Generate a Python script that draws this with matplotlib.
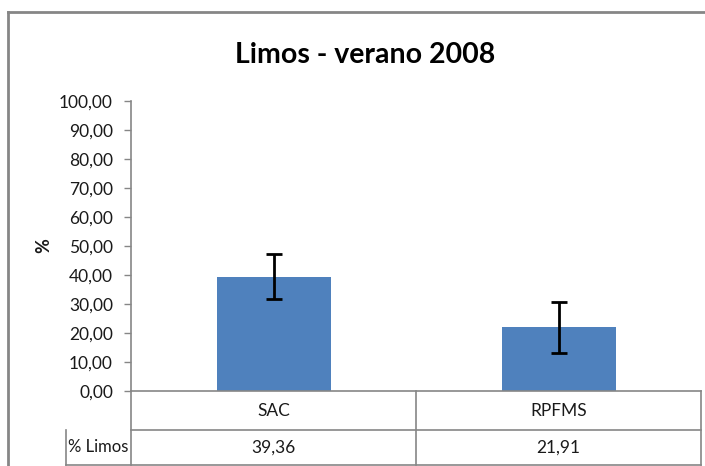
import matplotlib
matplotlib.use('Agg')
import matplotlib.pyplot as plt
from matplotlib.ticker import FuncFormatter, MultipleLocator
from matplotlib.lines import Line2D

# data
categories = ['SAC', 'RPFMS']
limos = [39.36, 21.91]
errors = [7.8, 8.7]
row_label = '% Limos'
title = 'Limos - verano 2008'

plt.rcParams['font.family'] = ['Lato', 'DejaVu Sans']

grey = '#868686'
txt = '#1a1a1a'

fig = plt.figure(figsize=(7.05, 4.66), dpi=100)
ax = fig.add_axes([131 / 705, 75 / 466, 570 / 705, 290 / 466])

x = list(range(len(categories)))
ax.bar(x, limos, width=0.4, color='#4F81BD', zorder=2)
ax.errorbar(x, limos, yerr=errors, fmt='none', ecolor='black',
            elinewidth=2, capsize=5.5, capthick=2, zorder=3)

ax.set_xlim(-0.5, len(categories) - 0.5)
ax.set_ylim(0, 100)
ax.yaxis.set_major_locator(MultipleLocator(10))
ax.yaxis.set_major_formatter(FuncFormatter(lambda v, p: ('%.2f' % v).replace('.', ',')))
ax.tick_params(axis='y', length=5, width=1, color=grey, pad=8,
               labelsize=12.5, labelcolor=txt)
ax.set_xticks([])
for s in ['top', 'right']:
    ax.spines[s].set_visible(False)
for s in ['left', 'bottom']:
    ax.spines[s].set_color(grey)
    ax.spines[s].set_linewidth(1.2)

ax.set_ylabel('%', fontsize=13, fontweight='bold', color=txt)
ax.yaxis.set_label_coords(-0.139, 0.5)

# data table under the plot
r1 = -39 / 290
r2 = -74 / 290
lab_left = (66 - 131) / 570
tkw = dict(transform=ax.transAxes, clip_on=False, color=grey, lw=1.2)
ax.plot([0, 1], [r1, r1], **tkw)
ax.plot([lab_left, 1], [r2, r2], **tkw)
ax.plot([lab_left, lab_left], [r1, r2], **tkw)
for b in range(len(categories) + 1):
    xb = b / len(categories)
    ax.plot([xb, xb], [0, r2], **tkw)

blend = matplotlib.transforms.blended_transform_factory(ax.transData, ax.transAxes)
for i, (c, v) in enumerate(zip(categories, limos)):
    ax.text(i, (0 + r1) / 2, c, transform=blend, ha='center', va='center',
            fontsize=12.5, color=txt)
    ax.text(i, (r1 + r2) / 2, ('%.2f' % v).replace('.', ','), transform=blend,
            ha='center', va='center', fontsize=12.5, color=txt)
ax.text(lab_left + 0.004, (r1 + r2) / 2, row_label, transform=ax.transAxes,
        ha='left', va='center', fontsize=12, color=txt)

fig.text(365 / 705, 1 - 63 / 466, title, ha='center', va='baseline',
         fontsize=20.5, fontweight='bold', color='black')

# outer chart frame
fig.add_artist(Line2D([8 / 705, 8 / 705], [0, 1 - 12 / 466], color=grey, lw=2))
fig.add_artist(Line2D([8 / 705, 1], [1 - 12 / 466, 1 - 12 / 466], color=grey, lw=2))

fig.savefig('out.png', dpi=100)
